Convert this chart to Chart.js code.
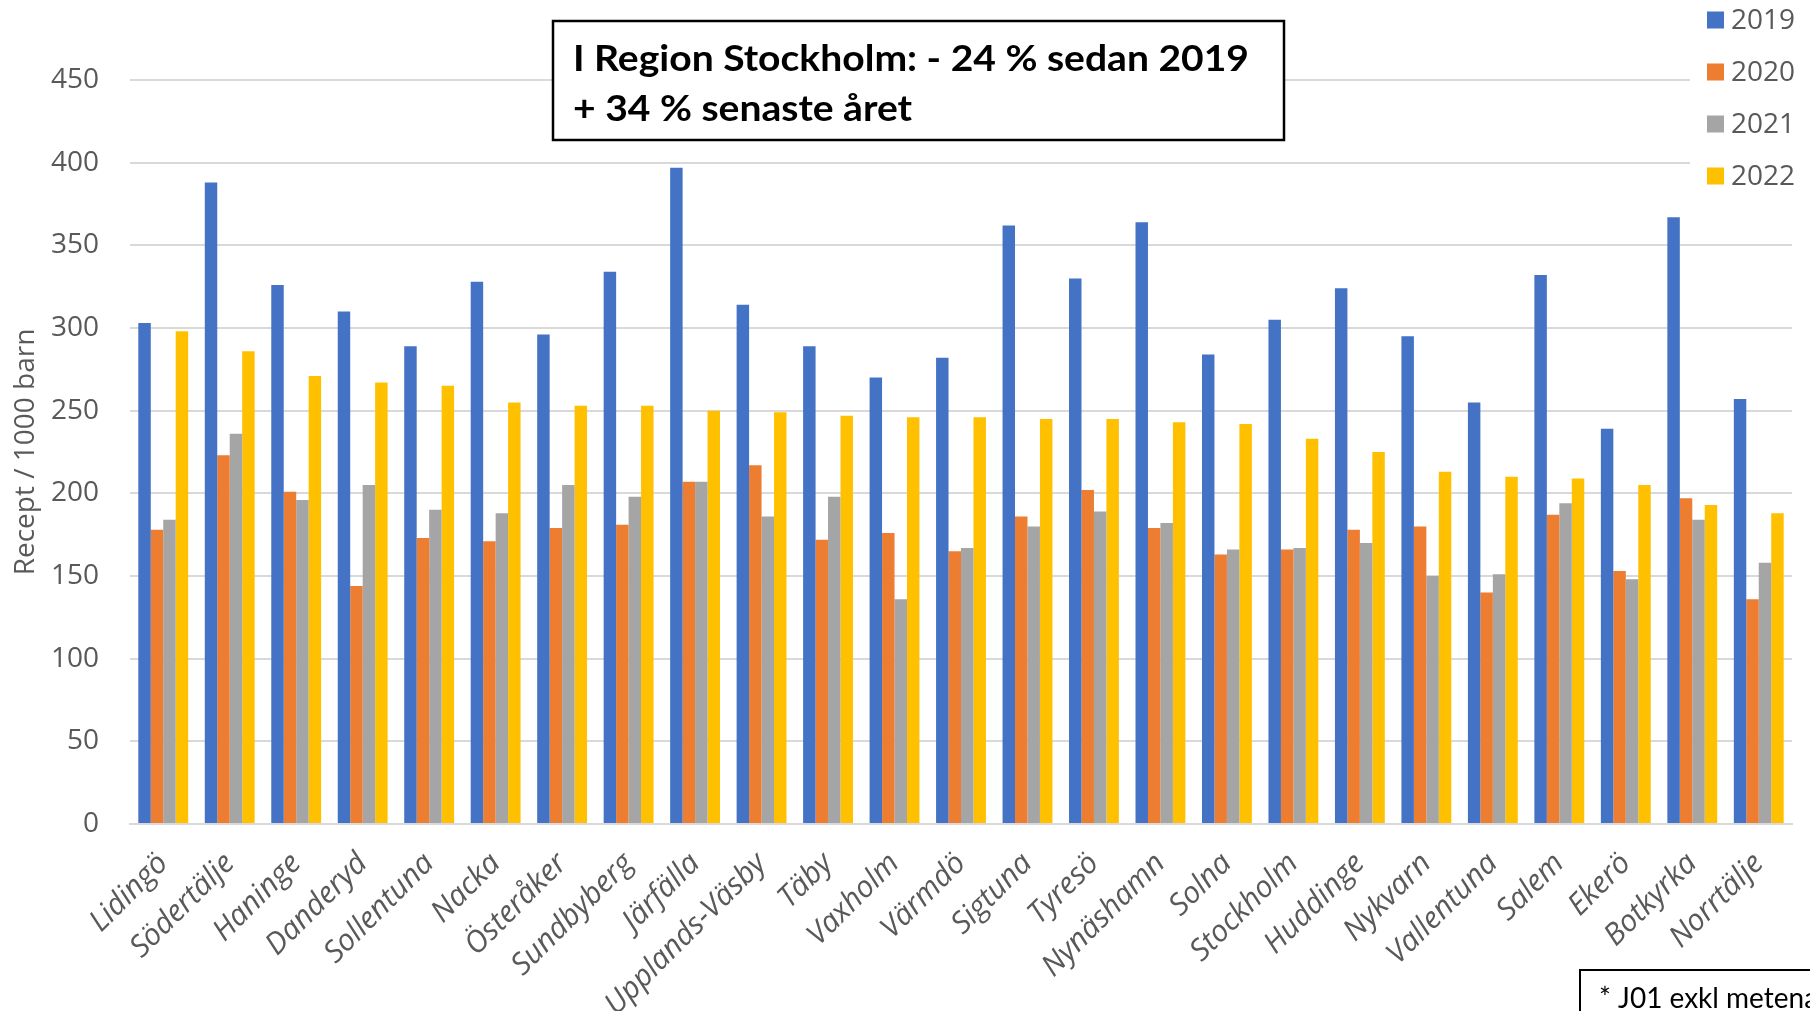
<!DOCTYPE html>
<html>
<head>
<meta charset="utf-8">
<script src="https://cdn.jsdelivr.net/npm/chart.js@4.4.0/dist/chart.umd.min.js"></script>
<style>
  html, body { margin: 0; padding: 0; background: #fff; overflow: hidden; }
  #wrap { position: relative; width: 1810px; height: 1011px; }
</style>
</head>
<body>
<div id="wrap"><canvas id="chart" width="1810" height="1011"></canvas></div>
<script>
// ========== DONNÉES ==========
const kommuner = [
  "Lidingö", "Södertälje", "Haninge", "Danderyd", "Sollentuna", "Nacka",
  "Österåker", "Sundbyberg", "Järfälla", "Upplands-Väsby", "Täby", "Vaxholm",
  "Värmdö", "Sigtuna", "Tyresö", "Nynäshamn", "Solna", "Stockholm",
  "Huddinge", "Nykvarn", "Vallentuna", "Salem", "Ekerö", "Botkyrka", "Norrtälje"
];
const years = ["2019", "2020", "2021", "2022"];
const colors = ["#4472C4", "#ED7D31", "#A5A5A5", "#FFC000"];

const v2019 = [303, 388, 326, 310, 289, 328, 296, 334, 397, 314, 289, 270, 282, 362, 330, 364, 284, 305, 324, 295, 255, 332, 239, 367, 257];
const v2020 = [178, 223, 201, 144, 173, 171, 179, 181, 207, 217, 172, 176, 165, 186, 202, 179, 163, 166, 178, 180, 140, 187, 153, 197, 136];
const v2021 = [184, 236, 196, 205, 190, 188, 205, 198, 207, 186, 198, 136, 167, 180, 189, 182, 166, 167, 170, 150, 151, 194, 148, 184, 158];
const v2022 = [298, 286, 271, 267, 265, 255, 253, 253, 250, 249, 247, 246, 246, 245, 245, 243, 242, 233, 225, 213, 210, 209, 205, 193, 188];

const yMax = 450;
const yStep = 50;
const yTitle = "Recept / 1000 barn";
const annotationLines = ["I Region Stockholm: - 24 % sedan 2019", "+ 34 % senaste året"];
const footnote = "* J01 exkl metenamin";

const GREY = "#595959";
const GRID = "#D9D9D9";

// ========== OVERLAY (légende, encadrés) ==========
const overlay = {
  id: "overlay",
  afterDraw(chart) {
    const ctx = chart.ctx;
    ctx.save();

    // légende
    ctx.fillStyle = "#fff";
    ctx.fillRect(1690, 0, 120, 198);
    ctx.font = "28px 'Open Sans'";
    ctx.textBaseline = "middle";
    ctx.textAlign = "left";
    chart.data.datasets.forEach((ds, i) => {
      const cy = 20 + i * 52;
      ctx.fillStyle = ds.backgroundColor;
      ctx.fillRect(1707, cy - 8.5, 17, 17);
      ctx.fillStyle = GREY;
      ctx.fillText(ds.label, 1731, cy + 1);
    });

    // encadré
    ctx.fillStyle = "#fff";
    ctx.fillRect(553, 21, 731, 119);
    ctx.strokeStyle = "#000";
    ctx.lineWidth = 2.5;
    ctx.strokeRect(553, 21, 731, 119);
    ctx.fillStyle = "#000";
    ctx.font = "bold 37px Lato";
    const sx = 676 / ctx.measureText(annotationLines[0]).width;
    annotationLines.forEach((t, i) => {
      ctx.save();
      ctx.translate(573, 59 + i * 50);
      ctx.scale(sx, 1);
      ctx.fillText(t, 0, 0);
      ctx.restore();
    });

    // note
    ctx.lineWidth = 2;
    ctx.strokeRect(1580, 970, 260, 60);
    ctx.font = "28px Lato";
    ctx.textBaseline = "alphabetic";
    ctx.fillText(footnote, 1599, 1008);

    ctx.restore();
  }
};

// ========== GRAPHIQUE ==========
const series = [v2019, v2020, v2021, v2022];

new Chart(document.getElementById("chart"), {
  type: "bar",
  data: {
    labels: kommuner,
    datasets: years.map((y, i) => ({
      label: y,
      data: series[i],
      backgroundColor: colors[i],
      borderWidth: 0,
      categoryPercentage: 0.75,
      barPercentage: 1.0,
    })),
  },
  options: {
    responsive: false,
    animation: false,
    devicePixelRatio: 1,
    events: [],
    layout: { padding: { left: 0, right: 18, top: 80, bottom: 0 } },
    plugins: { legend: { display: false }, tooltip: { enabled: false } },
    scales: {
      x: {
        grid: { display: false },
        border: { display: true, color: GRID, width: 2 },
        ticks: {
          color: GREY,
          font: { family: "'Open Sans'", size: 30, style: "italic" },
          autoSkip: false,
          maxRotation: 45,
          minRotation: 45,
          padding: 14,
        },
        afterFit: (s) => { s.height = 187; },
      },
      y: {
        min: 0,
        max: yMax,
        grid: { color: GRID, lineWidth: 2, drawTicks: false },
        border: { display: false },
        ticks: {
          stepSize: yStep,
          color: GREY,
          font: { family: "'Open Sans'", size: 28 },
          padding: 31,
        },
        title: {
          display: true,
          text: yTitle,
          color: GREY,
          font: { family: "'Open Sans'", size: 28 },
          padding: { top: 9, bottom: 0 },
        },
        afterFit: (s) => { s.width = 130; },
      },
    },
  },
  plugins: [overlay],
});
</script>
</body>
</html>
